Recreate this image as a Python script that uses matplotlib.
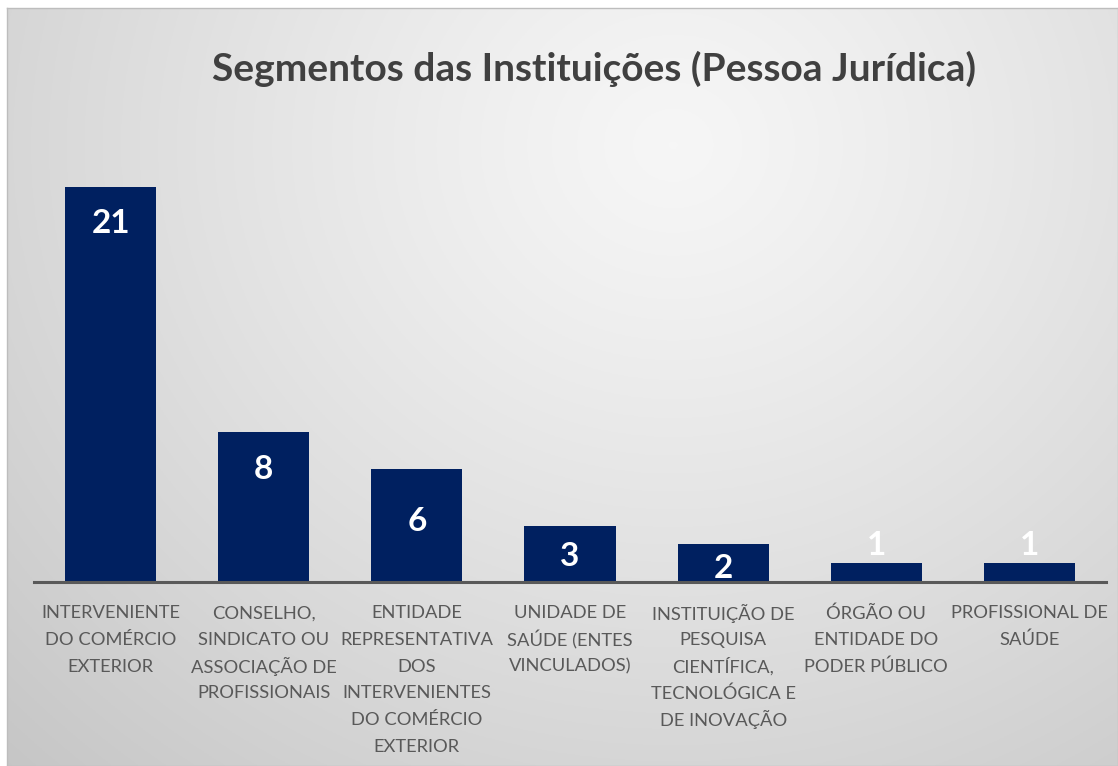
import matplotlib.pyplot as plt
import numpy as np

categorias = [
    "INTERVENIENTE\nDO COMÉRCIO\nEXTERIOR",
    "CONSELHO,\nSINDICATO OU\nASSOCIAÇÃO DE\nPROFISSIONAIS",
    "ENTIDADE\nREPRESENTATIVA\nDOS\nINTERVENIENTES\nDO COMÉRCIO\nEXTERIOR",
    "UNIDADE DE\nSAÚDE (ENTES\nVINCULADOS)",
    "INSTITUIÇÃO DE\nPESQUISA\nCIENTÍFICA,\nTECNOLÓGICA E\nDE INOVAÇÃO",
    "ÓRGÃO OU\nENTIDADE DO\nPODER PÚBLICO",
    "PROFISSIONAL DE\nSAÚDE",
]
valores = [21, 8, 6, 3, 2, 1, 1]
titulo = "Segmentos das Instituições (Pessoa Jurídica)"

# deslocamento dos rótulos em pixels abaixo do topo da barra (negativo = acima)
desloc_rotulo = [36, 38, 52, 31, 24, -18, -18]

fonte = ["Lato", "DejaVu Sans"]
plt.rcParams['font.family'] = fonte

W, H = 1118, 766
fig = plt.figure(figsize=(W / 100, H / 100), dpi=100)
fig.patch.set_facecolor("white")

# fundo com gradiente radial
bg = fig.add_axes([7 / W, 0, 1 - 7 / W, 1 - 8 / H])
ny, nx = 300, 440
yy, xx = np.mgrid[0:1:ny * 1j, 0:1:nx * 1j]
r = np.sqrt(((xx - 0.6) / 0.75) ** 2 + ((yy - 0.18) / 1.0) ** 2)
r = np.clip(r, 0, 1.2)
grad = 0.965 - 0.2 * (r / 1.2) ** 1.2
bg.imshow(np.dstack([grad, grad, grad]), aspect="auto", extent=[0, 1, 1, 0])
bg.set_xticks([])
bg.set_yticks([])
for s in bg.spines.values():
    s.set_color("#bdbdbd")
    s.set_linewidth(1.0)

# eixo das barras
x0, x1 = 34, 1106
yb = 582
ymax = 23
px_unid = 18.8
ax = fig.add_axes([x0 / W, (H - yb) / H, (x1 - x0) / W, ymax * px_unid / H])
ax.patch.set_alpha(0)
x = np.arange(len(valores))
barras = ax.bar(x, valores, width=0.595, color="#002060")
ax.set_xlim(-0.5, len(valores) - 0.5)
ax.set_ylim(0, ymax)

for s in ["top", "right", "left"]:
    ax.spines[s].set_visible(False)
ax.spines["bottom"].set_color("#595959")
ax.spines["bottom"].set_linewidth(2.2)
ax.set_yticks([])
ax.set_xticks([])

# rótulos das categorias, linha a linha com espaçamento fixo
passo = 26.6  # px entre linhas
for xi, cat in zip(x, categorias):
    for k, linha in enumerate(cat.split("\n")):
        ax.annotate(linha, xy=(xi, 0), xytext=(0, -(30 + k * passo) * 0.72),
                    textcoords="offset points", ha="center", va="center_baseline",
                    fontsize=13.2, color="#595959", annotation_clip=False)

# rótulos de valor
for xi, v, d in zip(x, valores, desloc_rotulo):
    ax.annotate(str(v), xy=(xi, v), xytext=(0, -d * 0.72), textcoords="offset points",
                ha="center", va="center", color="white", fontsize=24, fontweight="bold")

fig.text(594 / W, 1 - 69 / H, titulo, ha="center", va="center",
         fontsize=28, fontweight="bold", color="#404040")

fig.savefig("out.png", dpi=100)
